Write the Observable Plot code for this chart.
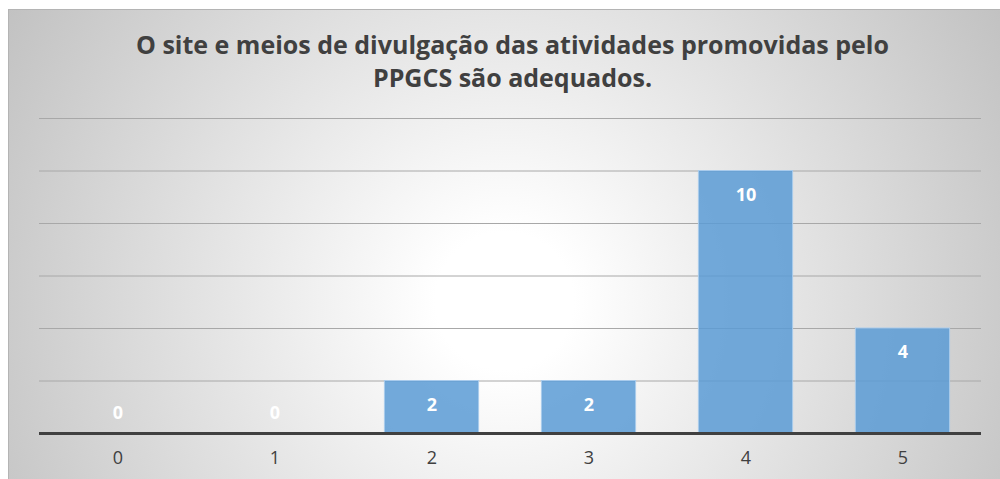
<!DOCTYPE html>
<html>
<head>
<meta charset="utf-8">
<script src="https://cdn.jsdelivr.net/npm/d3@7"></script>
<script src="https://cdn.jsdelivr.net/npm/@observablehq/plot@0.6"></script>
<style>
  html, body { margin: 0; padding: 0; background: #fff; width: 1000px; height: 479px; overflow: hidden; }
  #frame {
    position: absolute; left: 8px; top: 9px; width: 992px; height: 470px;
    box-sizing: border-box; border-left: 1px solid #b4b4b4; border-top: 1px solid #b4b4b4;
    background: radial-gradient(circle farthest-corner at 50% 62%, #ffffff 12%, #c2c2c2 100%);
  }
  #title {
    position: absolute; left: 8px; top: 18px; width: 991px; text-align: center;
    font-family: "Open Sans", sans-serif; font-weight: bold;
    font-size: 25px; line-height: 33px; color: #404040; letter-spacing: 0px;
  }
  #chart { position: absolute; left: 0; top: 100px; }
</style>
</head>
<body>
<div id="frame">
  <div id="title">O site e meios de divulgação das atividades promovidas pelo<br>PPGCS são adequados.</div>
  <div id="chart"></div>
</div>
<script>
const categories = ["0", "1", "2", "3", "4", "5"];
const values = [0, 0, 2, 2, 10, 4];
const yTicks = [0, 2, 4, 6, 8, 10, 12];

const data = categories.map((c, i) => ({cat: c, value: values[i]}));

const plot = Plot.plot({
  width: 991,
  height: 369,
  marginTop: 8,
  marginBottom: 46,
  marginLeft: 30,
  marginRight: 19,
  style: {background: "transparent", fontFamily: "'Open Sans', sans-serif"},
  x: {domain: categories, paddingInner: 0.4, paddingOuter: 0.2, round: false, label: null},
  y: {domain: [0, 12], axis: null},
  marks: [
    Plot.ruleY(yTicks.filter(d => d > 0), {stroke: "#a8a8a8", strokeWidth: 1}),
    Plot.barY(data, {x: "cat", y: "value", fill: "#5b9bd5", fillOpacity: 0.85, stroke: "#a9cbec", strokeWidth: 1}),
    Plot.ruleY([0], {stroke: "#404040", strokeWidth: 3}),
    Plot.text(data.filter(d => d.value > 0), {x: "cat", y: "value", text: d => String(d.value), dy: 24, fill: "white", fontWeight: "bold", fontSize: 18}),
    Plot.text(data.filter(d => d.value === 0), {x: "cat", y: "value", text: d => String(d.value), dy: -20, fill: "white", fontWeight: "bold", fontSize: 18}),
    Plot.axisX({tickSize: 0, tickPadding: 18, fontSize: 18, color: "#404040", label: null})
  ]
});
document.getElementById("chart").appendChild(plot);
</script>
</body>
</html>
